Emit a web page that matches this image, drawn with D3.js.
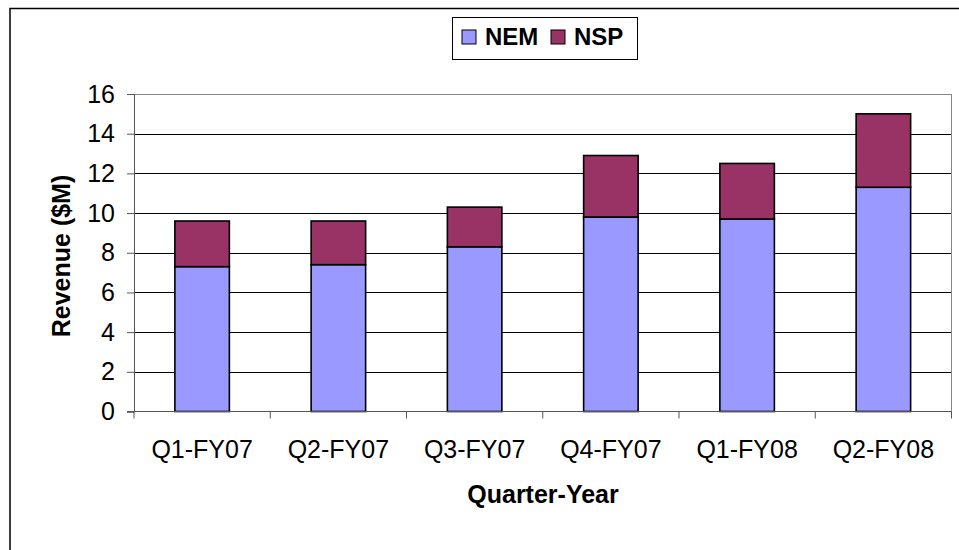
<!DOCTYPE html>
<html>
<head>
<meta charset="utf-8">
<script src="https://cdn.jsdelivr.net/npm/d3@7"></script>
<style>
  body { margin: 0; background: #fff; }
  text { font-family: "Liberation Sans", Arial, sans-serif; }
</style>
</head>
<body>
<div id="chart"></div>
<script>
// chart data
const quarters = ["Q1-FY07", "Q2-FY07", "Q3-FY07", "Q4-FY07", "Q1-FY08", "Q2-FY08"];
const nem = [7.3, 7.4, 8.3, 9.8, 9.7, 11.3];
const nsp = [2.3, 2.2, 2.0, 3.1, 2.8, 3.7];
const seriesNames = ["NEM", "NSP"];
const yTicks = [0, 2, 4, 6, 8, 10, 12, 14, 16];

const w = 959;
const h = 550;
const colors = { NEM: "#9999ff", NSP: "#993366" };

const svg = d3.select("#chart")
  .append("svg")
  .attr("width", w)
  .attr("height", h);

// outer frame of the chart
svg.append("rect")
  .attr("x", 10).attr("y", 8.5)
  .attr("width", w + 20).attr("height", h + 20)
  .attr("fill", "none")
  .attr("stroke", "#000")
  .attr("stroke-width", 1.5);

const x = d3.scaleBand()
  .domain(quarters)
  .range([134, 951.5])
  .paddingInner(0.6)
  .paddingOuter(0.3);

const y = d3.scaleLinear()
  .domain([0, 16])
  .range([411.5, 94]);

// gridlines
svg.append("g")
  .selectAll("line")
  .data(yTicks.slice(1))
  .enter()
  .append("line")
  .attr("x1", 134).attr("x2", 951.5)
  .attr("y1", d => Math.round(y(d)) + 0.5)
  .attr("y2", d => Math.round(y(d)) + 0.5)
  .attr("stroke", d => d === 16 ? "#888" : "#000")
  .attr("stroke-width", 1);

// right border of plot area
svg.append("line")
  .attr("x1", 951.5).attr("x2", 951.5)
  .attr("y1", y(16)).attr("y2", y(0))
  .attr("stroke", "#888");

// stacked bars
const rows = quarters.map((q, i) => ({ quarter: q, NEM: nem[i], NSP: nsp[i] }));
const stacked = d3.stack().keys(seriesNames)(rows);

svg.append("g")
  .selectAll("g")
  .data(stacked)
  .enter()
  .append("g")
  .attr("fill", d => colors[d.key])
  .selectAll("rect")
  .data(d => d)
  .enter()
  .append("rect")
  .attr("x", d => x(d.data.quarter))
  .attr("y", d => y(d[1]))
  .attr("width", x.bandwidth())
  .attr("height", d => y(d[0]) - y(d[1]))
  .attr("stroke", "#000")
  .attr("stroke-width", 1.6);

// y axis
const yAxis = d3.axisLeft(y)
  .tickValues(yTicks)
  .tickSize(7)
  .tickPadding(12)
  .tickFormat(d3.format("d"));

const yg = svg.append("g")
  .attr("transform", "translate(134,0)")
  .call(yAxis);
yg.select(".domain").attr("stroke", "#555");
yg.selectAll(".tick line").attr("stroke", "#555");
yg.selectAll("text")
  .attr("font-size", 25)
  .attr("fill", "#000")
  .style("font-family", "Liberation Sans, Arial, sans-serif");

// x axis: ticks sit between categories
const xg = svg.append("g")
  .attr("transform", "translate(0," + y(0) + ")");
xg.append("line")
  .attr("x1", 127).attr("x2", 951.5)
  .attr("stroke", "#555");
xg.selectAll(".xtick")
  .data(d3.range(quarters.length + 1))
  .enter()
  .append("line")
  .attr("class", "xtick")
  .attr("x1", i => 134 + i * x.step())
  .attr("x2", i => 134 + i * x.step())
  .attr("y1", 0).attr("y2", 7)
  .attr("stroke", "#555");
xg.selectAll(".xlabel")
  .data(quarters)
  .enter()
  .append("text")
  .attr("class", "xlabel")
  .attr("x", d => x(d) + x.bandwidth() / 2)
  .attr("y", 46)
  .attr("text-anchor", "middle")
  .attr("font-size", 25)
  .text(d => d);

// axis titles
svg.append("text")
  .attr("x", 543)
  .attr("y", 503)
  .attr("text-anchor", "middle")
  .attr("font-size", 25)
  .attr("font-weight", "bold")
  .text("Quarter-Year");

svg.append("text")
  .attr("transform", "translate(70,256) rotate(-90)")
  .attr("text-anchor", "middle")
  .attr("font-size", 25)
  .attr("font-weight", "bold")
  .text("Revenue ($M)");

// legend
const legend = svg.append("g");
legend.append("rect")
  .attr("x", 452.5).attr("y", 17.5)
  .attr("width", 185).attr("height", 42)
  .attr("fill", "#fff")
  .attr("stroke", "#000")
  .attr("stroke-width", 1);

const legendX = [462, 551];
const item = legend.selectAll(".legend-item")
  .data(seriesNames)
  .enter()
  .append("g")
  .attr("class", "legend-item")
  .attr("transform", (d, i) => "translate(" + legendX[i] + ",30)");
item.append("rect")
  .attr("width", 14).attr("height", 14)
  .attr("fill", d => colors[d])
  .attr("stroke", "#000")
  .attr("stroke-width", 1);
item.append("text")
  .attr("x", 23)
  .attr("y", 15)
  .attr("font-size", 24)
  .attr("font-weight", "bold")
  .text(d => d);
</script>
</body>
</html>
